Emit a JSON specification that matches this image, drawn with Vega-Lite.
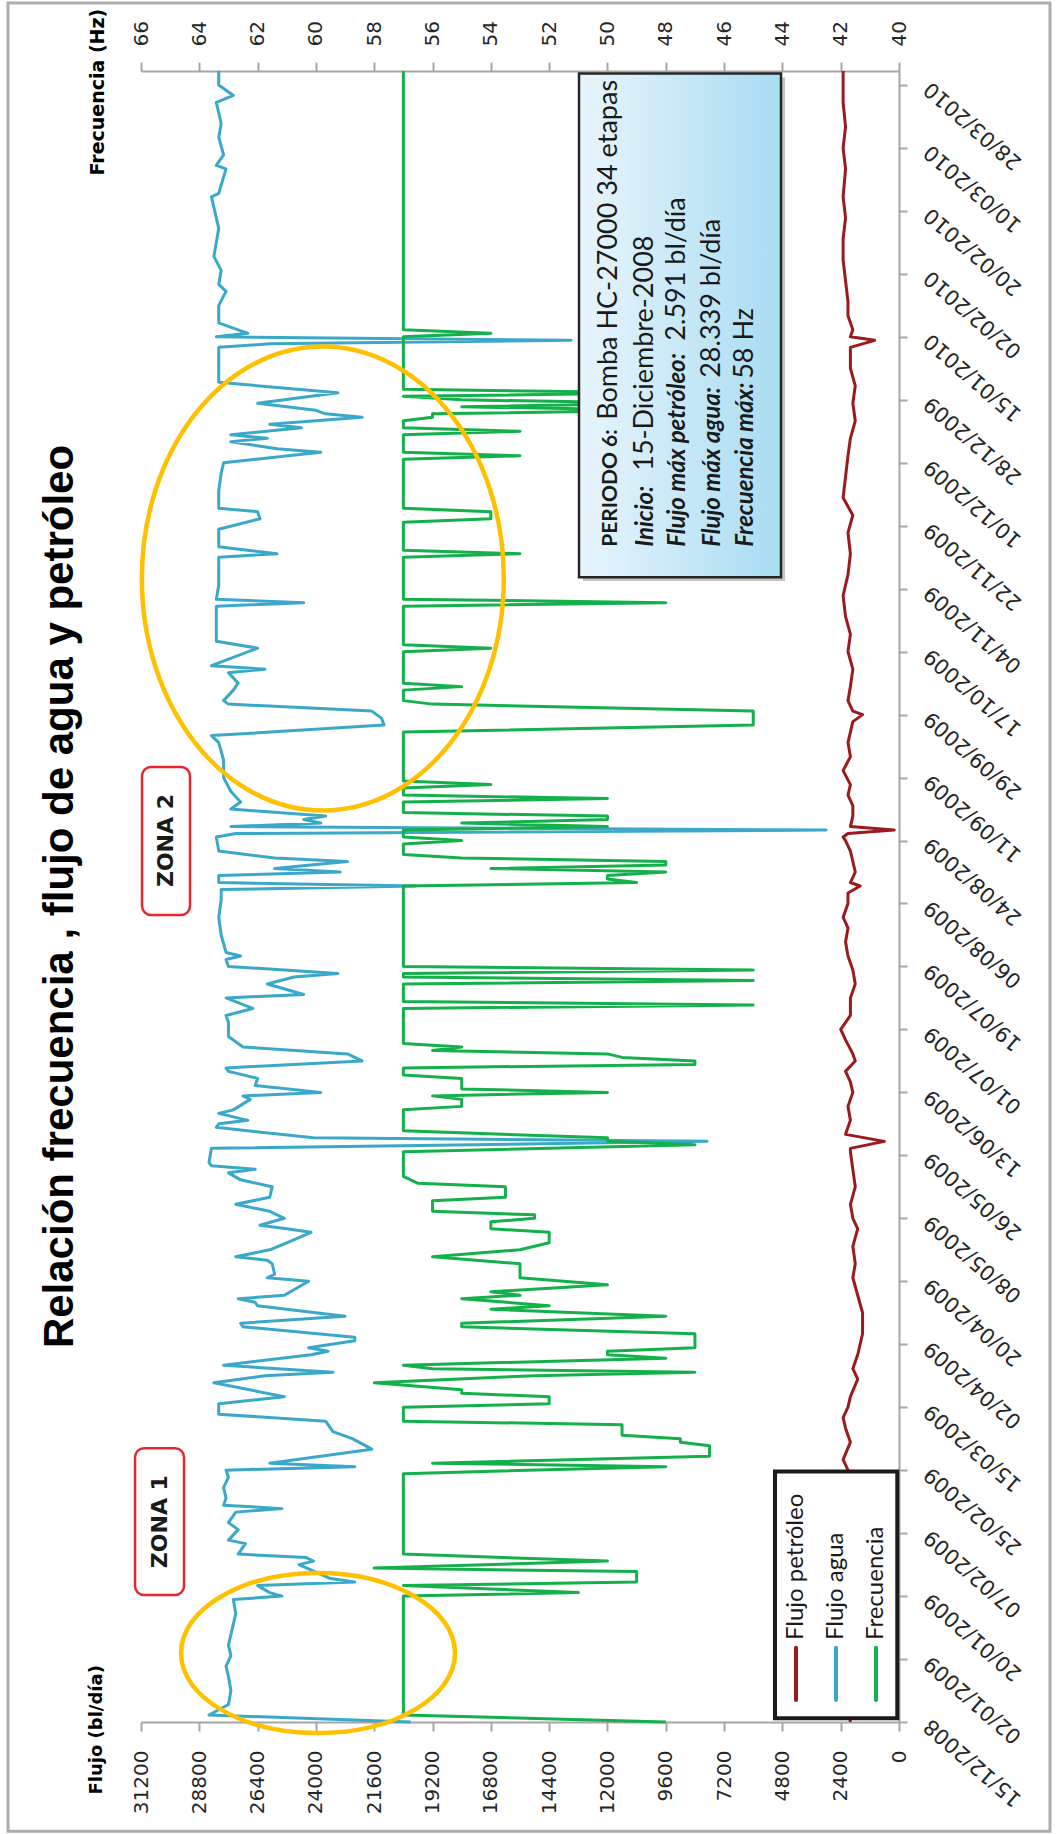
{
  "$schema": "https://vega.github.io/schema/vega-lite/v6.json",
  "width": 758,
  "height": 1651,
  "autosize": {"type": "none"},
  "padding": {"left": 141, "top": 71, "right": 158, "bottom": 112},
  "background": "#ffffff",
  "config": {
    "view": {"stroke": null},
    "axis": {"grid": false, "domainColor": "#A6A6A6", "domainWidth": 2, "tickColor": "#A6A6A6", "tickWidth": 2, "labelFont": "DejaVu Sans", "labelColor": "#262626", "titleFont": "DejaVu Sans", "titleColor": "#000000", "labelOverlap": false, "labelFlush": false}
  },
  "title": {"text": "Relación frecuencia , flujo de agua y petróleo", "orient": "left", "anchor": "middle", "font": "Liberation Sans", "fontSize": 42, "fontWeight": "bold", "color": "#000000", "offset": -75.5},
  "datasets": {
    "agua": [
      {"f":"2008-12-15","q":20100},{"f":"2008-12-17","q":28400},{"f":"2008-12-20","q":27600},{"f":"2008-12-24","q":27500},{"f":"2008-12-28","q":27600},{"f":"2008-12-31","q":27700},{"f":"2009-01-03","q":27500},{"f":"2009-01-06","q":27600},{"f":"2009-01-12","q":27400},{"f":"2009-01-15","q":27300},{"f":"2009-01-19","q":27400},{"f":"2009-01-20","q":25400},{"f":"2009-01-21","q":25900},{"f":"2009-01-23","q":26400},{"f":"2009-01-24","q":22400},{"f":"2009-01-25","q":23400},{"f":"2009-01-29","q":24700},{"f":"2009-01-30","q":24100},{"f":"2009-01-31","q":24400},{"f":"2009-02-01","q":27200},{"f":"2009-02-04","q":26900},{"f":"2009-02-05","q":27600},{"f":"2009-02-08","q":27200},{"f":"2009-02-10","q":27600},{"f":"2009-02-13","q":27300},{"f":"2009-02-14","q":25400},{"f":"2009-02-15","q":27800},{"f":"2009-02-17","q":27700},{"f":"2009-02-20","q":27800},{"f":"2009-02-23","q":27600},{"f":"2009-02-25","q":27700},{"f":"2009-02-26","q":22400},{"f":"2009-02-27","q":25900},{"f":"2009-03-03","q":21700},{"f":"2009-03-06","q":22500},{"f":"2009-03-08","q":23300},{"f":"2009-03-11","q":23600},{"f":"2009-03-13","q":28000},{"f":"2009-03-16","q":28000},{"f":"2009-03-18","q":25300},{"f":"2009-03-22","q":28200},{"f":"2009-03-24","q":26100},{"f":"2009-03-25","q":23300},{"f":"2009-03-27","q":27800},{"f":"2009-03-30","q":24200},{"f":"2009-03-31","q":23500},{"f":"2009-04-01","q":24300},{"f":"2009-04-03","q":22400},{"f":"2009-04-04","q":22400},{"f":"2009-04-07","q":27000},{"f":"2009-04-08","q":27100},{"f":"2009-04-10","q":22800},{"f":"2009-04-13","q":26400},{"f":"2009-04-14","q":26500},{"f":"2009-04-15","q":27200},{"f":"2009-04-16","q":25300},{"f":"2009-04-20","q":24300},{"f":"2009-04-21","q":26000},{"f":"2009-04-22","q":25700},{"f":"2009-04-25","q":25800},{"f":"2009-04-26","q":26000},{"f":"2009-04-27","q":27300},{"f":"2009-04-29","q":25900},{"f":"2009-05-01","q":25200},{"f":"2009-05-04","q":24200},{"f":"2009-05-05","q":25200},{"f":"2009-05-06","q":26300},{"f":"2009-05-08","q":25300},{"f":"2009-05-10","q":25900},{"f":"2009-05-12","q":27300},{"f":"2009-05-14","q":25900},{"f":"2009-05-17","q":25800},{"f":"2009-05-19","q":27100},{"f":"2009-05-21","q":27600},{"f":"2009-05-22","q":26500},{"f":"2009-05-23","q":28300},{"f":"2009-05-24","q":28400},{"f":"2009-05-28","q":28300},{"f":"2009-05-30","q":7900},{"f":"2009-05-31","q":24100},{"f":"2009-06-03","q":28100},{"f":"2009-06-04","q":28000},{"f":"2009-06-05","q":26800},{"f":"2009-06-07","q":28000},{"f":"2009-06-08","q":27400},{"f":"2009-06-11","q":26700},{"f":"2009-06-12","q":27000},{"f":"2009-06-13","q":23800},{"f":"2009-06-15","q":26500},{"f":"2009-06-17","q":26400},{"f":"2009-06-19","q":27600},{"f":"2009-06-20","q":27700},{"f":"2009-06-22","q":22100},{"f":"2009-06-24","q":22700},{"f":"2009-06-26","q":27000},{"f":"2009-06-29","q":27600},{"f":"2009-07-03","q":27600},{"f":"2009-07-05","q":27700},{"f":"2009-07-07","q":26600},{"f":"2009-07-10","q":27700},{"f":"2009-07-11","q":24500},{"f":"2009-07-14","q":26000},{"f":"2009-07-16","q":24900},{"f":"2009-07-17","q":23100},{"f":"2009-07-19","q":27600},{"f":"2009-07-21","q":27700},{"f":"2009-07-22","q":27100},{"f":"2009-07-23","q":27700},{"f":"2009-07-28","q":27900},{"f":"2009-08-02","q":28000},{"f":"2009-08-07","q":27900},{"f":"2009-08-10","q":27900},{"f":"2009-08-11","q":19900},{"f":"2009-08-12","q":28000},{"f":"2009-08-14","q":28000},{"f":"2009-08-15","q":23000},{"f":"2009-08-16","q":25700},{"f":"2009-08-18","q":22700},{"f":"2009-08-19","q":25700},{"f":"2009-08-21","q":28000},{"f":"2009-08-25","q":28100},{"f":"2009-08-26","q":27300},{"f":"2009-08-27","q":3000},{"f":"2009-08-28","q":27500},{"f":"2009-08-29","q":23800},{"f":"2009-08-30","q":24500},{"f":"2009-08-31","q":23600},{"f":"2009-09-02","q":27500},{"f":"2009-09-04","q":27100},{"f":"2009-09-07","q":27500},{"f":"2009-09-11","q":27800},{"f":"2009-09-16","q":27800},{"f":"2009-09-21","q":28000},{"f":"2009-09-23","q":28300},{"f":"2009-09-26","q":21200},{"f":"2009-09-28","q":21300},{"f":"2009-09-30","q":21700},{"f":"2009-10-02","q":27600},{"f":"2009-10-03","q":27800},{"f":"2009-10-06","q":27400},{"f":"2009-10-08","q":27200},{"f":"2009-10-11","q":27600},{"f":"2009-10-12","q":26100},{"f":"2009-10-13","q":28300},{"f":"2009-10-18","q":26400},{"f":"2009-10-20","q":28100},{"f":"2009-10-26","q":28100},{"f":"2009-10-30","q":28100},{"f":"2009-10-31","q":24500},{"f":"2009-11-01","q":28100},{"f":"2009-11-05","q":28000},{"f":"2009-11-10","q":28000},{"f":"2009-11-13","q":28000},{"f":"2009-11-14","q":25600},{"f":"2009-11-16","q":28000},{"f":"2009-11-21","q":28000},{"f":"2009-11-24","q":26300},{"f":"2009-11-26","q":26400},{"f":"2009-11-27","q":28000},{"f":"2009-12-02","q":28000},{"f":"2009-12-07","q":27900},{"f":"2009-12-10","q":27800},{"f":"2009-12-13","q":23800},{"f":"2009-12-14","q":25600},{"f":"2009-12-16","q":27500},{"f":"2009-12-17","q":26000},{"f":"2009-12-18","q":27500},{"f":"2009-12-20","q":24600},{"f":"2009-12-21","q":25900},{"f":"2009-12-23","q":22100},{"f":"2009-12-24","q":23600},{"f":"2009-12-25","q":24000},{"f":"2009-12-27","q":26400},{"f":"2009-12-30","q":23100},{"f":"2010-01-02","q":28000},{"f":"2010-01-09","q":28000},{"f":"2010-01-12","q":28000},{"f":"2010-01-13","q":25900},{"f":"2010-01-14","q":13500},{"f":"2010-01-15","q":28100},{"f":"2010-01-16","q":26800},{"f":"2010-01-19","q":28000},{"f":"2010-01-24","q":28000},{"f":"2010-01-28","q":27700},{"f":"2010-01-30","q":28000},{"f":"2010-02-03","q":27900},{"f":"2010-02-07","q":28200},{"f":"2010-02-15","q":28000},{"f":"2010-02-24","q":28300},{"f":"2010-02-25","q":28000},{"f":"2010-03-04","q":27700},{"f":"2010-03-05","q":28100},{"f":"2010-03-08","q":27800},{"f":"2010-03-13","q":28000},{"f":"2010-03-17","q":27900},{"f":"2010-03-23","q":28100},{"f":"2010-03-25","q":27400},{"f":"2010-03-28","q":28000},{"f":"2010-04-01","q":28000}
    ],
    "petroleo": [
      {"f":"2008-12-15","q":2000},{"f":"2008-12-20","q":2100},{"f":"2008-12-25","q":1900},{"f":"2008-12-30","q":2100},{"f":"2009-01-04","q":2000},{"f":"2009-01-09","q":2200},{"f":"2009-01-14","q":1900},{"f":"2009-01-19","q":2100},{"f":"2009-01-24","q":2000},{"f":"2009-01-29","q":2200},{"f":"2009-02-03","q":1900},{"f":"2009-02-08","q":2100},{"f":"2009-02-13","q":2000},{"f":"2009-02-18","q":2200},{"f":"2009-02-23","q":2000},{"f":"2009-02-25","q":2100},{"f":"2009-02-28","q":2300},{"f":"2009-03-05","q":2000},{"f":"2009-03-09","q":2200},{"f":"2009-03-12","q":2300},{"f":"2009-03-15","q":2100},{"f":"2009-03-18","q":2000},{"f":"2009-03-23","q":1700},{"f":"2009-03-26","q":1900},{"f":"2009-03-30","q":1700},{"f":"2009-04-05","q":1500},{"f":"2009-04-11","q":1500},{"f":"2009-04-16","q":1700},{"f":"2009-04-21","q":1900},{"f":"2009-04-25","q":1800},{"f":"2009-04-30","q":1900},{"f":"2009-05-05","q":1700},{"f":"2009-05-08","q":1900},{"f":"2009-05-12","q":2000},{"f":"2009-05-17","q":1800},{"f":"2009-05-22","q":1900},{"f":"2009-05-27","q":2000},{"f":"2009-05-28","q":2000},{"f":"2009-05-30","q":600},{"f":"2009-06-01","q":2200},{"f":"2009-06-05","q":2000},{"f":"2009-06-09","q":2100},{"f":"2009-06-13","q":1900},{"f":"2009-06-16","q":2000},{"f":"2009-06-19","q":2200},{"f":"2009-06-22","q":1800},{"f":"2009-06-24","q":1900},{"f":"2009-06-28","q":2200},{"f":"2009-07-01","q":2400},{"f":"2009-07-05","q":2000},{"f":"2009-07-10","q":2000},{"f":"2009-07-14","q":1800},{"f":"2009-07-18","q":1900},{"f":"2009-07-22","q":2100},{"f":"2009-07-26","q":2200},{"f":"2009-07-30","q":2100},{"f":"2009-08-02","q":2300},{"f":"2009-08-06","q":2100},{"f":"2009-08-09","q":2100},{"f":"2009-08-11","q":1600},{"f":"2009-08-12","q":2000},{"f":"2009-08-15","q":1800},{"f":"2009-08-18","q":1900},{"f":"2009-08-21","q":2000},{"f":"2009-08-24","q":2200},{"f":"2009-08-25","q":2300},{"f":"2009-08-26","q":2100},{"f":"2009-08-27","q":200},{"f":"2009-08-28","q":2000},{"f":"2009-08-31","q":1900},{"f":"2009-09-03","q":1900},{"f":"2009-09-06","q":2100},{"f":"2009-09-09","q":2000},{"f":"2009-09-13","q":2300},{"f":"2009-09-17","q":2000},{"f":"2009-09-21","q":2100},{"f":"2009-09-24","q":2000},{"f":"2009-09-27","q":1900},{"f":"2009-09-29","q":1500},{"f":"2009-09-30","q":1900},{"f":"2009-10-03","q":2100},{"f":"2009-10-07","q":2000},{"f":"2009-10-12","q":1900},{"f":"2009-10-17","q":2100},{"f":"2009-10-22","q":2000},{"f":"2009-10-27","q":2200},{"f":"2009-11-02","q":2300},{"f":"2009-11-08","q":2100},{"f":"2009-11-14","q":2000},{"f":"2009-11-20","q":2100},{"f":"2009-11-25","q":1900},{"f":"2009-11-30","q":2300},{"f":"2009-12-06","q":2200},{"f":"2009-12-12","q":2100},{"f":"2009-12-17","q":2000},{"f":"2009-12-22","q":1800},{"f":"2009-12-27","q":1900},{"f":"2010-01-01","q":1800},{"f":"2010-01-06","q":2000},{"f":"2010-01-11","q":2000},{"f":"2010-01-12","q":2000},{"f":"2010-01-14","q":1000},{"f":"2010-01-15","q":2000},{"f":"2010-01-17","q":1900},{"f":"2010-01-21","q":2100},{"f":"2010-01-25","q":2100},{"f":"2010-01-31","q":2200},{"f":"2010-02-06","q":2300},{"f":"2010-02-12","q":2300},{"f":"2010-02-18","q":2200},{"f":"2010-02-24","q":2300},{"f":"2010-03-04","q":2200},{"f":"2010-03-10","q":2300},{"f":"2010-03-16","q":2200},{"f":"2010-03-23","q":2300},{"f":"2010-03-28","q":2300},{"f":"2010-04-01","q":2300}
    ],
    "frec": [
      {"f":"2008-12-15","hz":48},{"f":"2008-12-17","hz":57},{"f":"2009-01-20","hz":57},{"f":"2009-01-21","hz":51},{"f":"2009-01-22","hz":54},{"f":"2009-01-23","hz":57},{"f":"2009-01-24","hz":49},{"f":"2009-01-27","hz":49},{"f":"2009-01-28","hz":58},{"f":"2009-01-30","hz":50},{"f":"2009-02-01","hz":57},{"f":"2009-02-24","hz":57},{"f":"2009-02-26","hz":48},{"f":"2009-02-27","hz":56},{"f":"2009-03-01","hz":46.5},{"f":"2009-03-04","hz":46.5},{"f":"2009-03-05","hz":47.5},{"f":"2009-03-06","hz":47.5},{"f":"2009-03-07","hz":49.5},{"f":"2009-03-10","hz":49.5},{"f":"2009-03-11","hz":57},{"f":"2009-03-15","hz":57},{"f":"2009-03-16","hz":52},{"f":"2009-03-18","hz":52},{"f":"2009-03-19","hz":55},{"f":"2009-03-20","hz":55},{"f":"2009-03-22","hz":58},{"f":"2009-03-24","hz":52.5},{"f":"2009-03-25","hz":47},{"f":"2009-03-26","hz":56},{"f":"2009-03-27","hz":57},{"f":"2009-03-29","hz":48},{"f":"2009-03-30","hz":50},{"f":"2009-03-31","hz":50},{"f":"2009-04-01","hz":47},{"f":"2009-04-05","hz":47},{"f":"2009-04-07","hz":55},{"f":"2009-04-08","hz":55},{"f":"2009-04-10","hz":48},{"f":"2009-04-12","hz":54},{"f":"2009-04-13","hz":52},{"f":"2009-04-15","hz":55},{"f":"2009-04-16","hz":53},{"f":"2009-04-17","hz":54},{"f":"2009-04-19","hz":50},{"f":"2009-04-21","hz":53},{"f":"2009-04-25","hz":53},{"f":"2009-04-27","hz":56},{"f":"2009-04-29","hz":53},{"f":"2009-05-01","hz":52},{"f":"2009-05-04","hz":52},{"f":"2009-05-05","hz":54},{"f":"2009-05-07","hz":54},{"f":"2009-05-08","hz":52.5},{"f":"2009-05-09","hz":52.5},{"f":"2009-05-10","hz":56},{"f":"2009-05-13","hz":56},{"f":"2009-05-14","hz":53.5},{"f":"2009-05-17","hz":53.5},{"f":"2009-05-18","hz":56.5},{"f":"2009-05-20","hz":57},{"f":"2009-05-27","hz":57},{"f":"2009-05-29","hz":47},{"f":"2009-05-30","hz":50},{"f":"2009-05-31","hz":50},{"f":"2009-06-02","hz":57},{"f":"2009-06-08","hz":57},{"f":"2009-06-09","hz":55},{"f":"2009-06-11","hz":55},{"f":"2009-06-12","hz":56},{"f":"2009-06-13","hz":50},{"f":"2009-06-14","hz":55},{"f":"2009-06-17","hz":55},{"f":"2009-06-18","hz":57},{"f":"2009-06-20","hz":57},{"f":"2009-06-21","hz":47},{"f":"2009-06-22","hz":47},{"f":"2009-06-23","hz":49.5},{"f":"2009-06-24","hz":50},{"f":"2009-06-25","hz":56},{"f":"2009-06-26","hz":55},{"f":"2009-06-27","hz":57},{"f":"2009-07-07","hz":57},{"f":"2009-07-08","hz":45},{"f":"2009-07-09","hz":57},{"f":"2009-07-14","hz":57},{"f":"2009-07-15","hz":45},{"f":"2009-07-16","hz":57},{"f":"2009-07-17","hz":57},{"f":"2009-07-18","hz":45},{"f":"2009-07-19","hz":57},{"f":"2009-08-11","hz":57},{"f":"2009-08-12","hz":49},{"f":"2009-08-13","hz":50},{"f":"2009-08-14","hz":50},{"f":"2009-08-15","hz":48},{"f":"2009-08-16","hz":54},{"f":"2009-08-17","hz":48},{"f":"2009-08-18","hz":48},{"f":"2009-08-19","hz":55},{"f":"2009-08-20","hz":57},{"f":"2009-08-23","hz":57},{"f":"2009-08-24","hz":55},{"f":"2009-08-25","hz":57},{"f":"2009-08-27","hz":57},{"f":"2009-08-28","hz":50},{"f":"2009-08-29","hz":55},{"f":"2009-08-30","hz":50},{"f":"2009-08-31","hz":50},{"f":"2009-09-01","hz":57},{"f":"2009-09-04","hz":57},{"f":"2009-09-05","hz":50},{"f":"2009-09-06","hz":57},{"f":"2009-09-08","hz":57},{"f":"2009-09-09","hz":54},{"f":"2009-09-10","hz":57},{"f":"2009-09-24","hz":57},{"f":"2009-09-26","hz":45},{"f":"2009-09-30","hz":45},{"f":"2009-10-02","hz":56},{"f":"2009-10-03","hz":57},{"f":"2009-10-06","hz":57},{"f":"2009-10-07","hz":55},{"f":"2009-10-08","hz":57},{"f":"2009-10-17","hz":57},{"f":"2009-10-18","hz":54},{"f":"2009-10-19","hz":57},{"f":"2009-10-30","hz":57},{"f":"2009-10-31","hz":48},{"f":"2009-11-01","hz":57},{"f":"2009-11-13","hz":57},{"f":"2009-11-14","hz":53},{"f":"2009-11-15","hz":57},{"f":"2009-11-23","hz":57},{"f":"2009-11-24","hz":54},{"f":"2009-11-26","hz":54},{"f":"2009-11-27","hz":57},{"f":"2009-12-11","hz":57},{"f":"2009-12-12","hz":53},{"f":"2009-12-13","hz":57},{"f":"2009-12-18","hz":57},{"f":"2009-12-19","hz":53},{"f":"2009-12-20","hz":57},{"f":"2009-12-22","hz":57},{"f":"2009-12-23","hz":56},{"f":"2009-12-24","hz":56},{"f":"2009-12-25","hz":48},{"f":"2009-12-26","hz":55},{"f":"2009-12-27","hz":48},{"f":"2009-12-28","hz":55},{"f":"2009-12-29","hz":57},{"f":"2009-12-30","hz":48},{"f":"2009-12-31","hz":57},{"f":"2010-01-15","hz":57},{"f":"2010-01-16","hz":54},{"f":"2010-01-17","hz":57},{"f":"2010-04-01","hz":57}
    ],
    "marco": [{"xa":36674,"xb":-6215,"ta":"2010-04-20T10:00","tb":"2008-11-13T19:00"}],
    "zonas": [
      {"z":"ZONA 1","xa":31446,"xb":29429,"ta":"2009-03-03T07:00","tb":"2009-01-20T07:00","xc":30438,"tc":"2009-02-10T07:00"},
      {"z":"ZONA 2","xa":31158,"xb":29183,"ta":"2009-09-14T00:00","tb":"2009-08-02T17:00","xc":30170,"tc":"2009-08-24T00:00"}
    ],
    "cuadro": [{"xa":13171,"xb":4857,"ta":"2010-03-31T07:00","tb":"2009-11-07T07:00"}],
    "sombra": [{"xa":13006,"xb":4692,"ta":"2010-03-30T05:00","tb":"2009-11-06T05:00"}],
    "txt_negrita": [{"s":"PERIODO 6:","x":11607,"t":"2009-11-16T00:00"}],
    "txt_cursiva": [
      {"s":"Inicio:","x":10125,"t":"2009-11-16T00:00"},
      {"s":"Flujo máx petróleo:","x":8808,"t":"2009-11-16T00:00"},
      {"s":"Flujo máx  agua:","x":7368,"t":"2009-11-16T00:00"},
      {"s":"Frecuencia máx:","x":6026,"t":"2009-11-16T00:00"}
    ],
    "txt_normal": [
      {"s":"Bomba HC-27000 34 etapas","x":11607,"t":"2009-12-22T07:00"},
      {"s":"15-Diciembre-2008","x":10125,"t":"2009-12-07T17:00"},
      {"s":"2.591 bl/día","x":8808,"t":"2010-01-13T22:00"},
      {"s":"28.339 bl/día","x":7368,"t":"2010-01-03T07:00"},
      {"s":"58 Hz","x":6026,"t":"2010-01-03T00:00"}
    ],
    "leyenda_caja": [{"xa":5104,"xb":70,"ta":"2009-02-24T14:00","tb":"2008-12-16T02:00"}],
    "leyenda": [
      {"serie":"Flujo petróleo","x":4239,"ta":"2008-12-21T07:00","tb":"2009-01-05T05:00","tt":"2009-01-07T10:00"},
      {"serie":"Flujo agua","x":2593,"ta":"2008-12-21T07:00","tb":"2009-01-05T05:00","tt":"2009-01-07T10:00"},
      {"serie":"Frecuencia","x":947,"ta":"2008-12-21T07:00","tb":"2009-01-05T05:00","tt":"2009-01-07T10:00"}
    ]
  },
  "layer": [
    {
      "data": {"name": "marco"},
      "mark": {"type": "rect", "fill": null, "fillOpacity": 0, "stroke": "#ADADAD", "strokeWidth": 3},
      "encoding": {
        "x": {"field": "xa", "type": "quantitative", "scale": {"domain": [0, 31200], "reverse": true, "nice": false, "zero": false}, "axis": null},
        "x2": {"field": "xb"},
        "y": {"field": "ta", "type": "temporal", "scale": {"domain": [{"year": 2008, "month": 12, "date": 15}, {"year": 2010, "month": 4, "date": 1}], "nice": false}},
        "y2": {"field": "tb"}
      }
    },
    {
      "data": {"name": "petroleo"},
      "mark": {"type": "line", "color": "#9A1B1E", "strokeWidth": 3, "strokeJoin": "round"},
      "encoding": {
        "y": {"field": "f", "type": "temporal",
          "scale": {"domain": [{"year": 2008, "month": 12, "date": 15}, {"year": 2010, "month": 4, "date": 1}], "nice": false},
          "axis": {"orient": "right", "title": null, "format": "%d/%m/%Y", "labelAngle": 221, "labelAlign": "right", "labelBaseline": "middle", "labelPadding": 20, "labelFontSize": 21, "tickSize": 8,
            "values": [
              {"year":2008,"month":12,"date":15},{"year":2009,"month":1,"date":2},{"year":2009,"month":1,"date":20},{"year":2009,"month":2,"date":7},{"year":2009,"month":2,"date":25},{"year":2009,"month":3,"date":15},{"year":2009,"month":4,"date":2},{"year":2009,"month":4,"date":20},{"year":2009,"month":5,"date":8},{"year":2009,"month":5,"date":26},{"year":2009,"month":6,"date":13},{"year":2009,"month":7,"date":1},{"year":2009,"month":7,"date":19},{"year":2009,"month":8,"date":6},{"year":2009,"month":8,"date":24},{"year":2009,"month":9,"date":11},{"year":2009,"month":9,"date":29},{"year":2009,"month":10,"date":17},{"year":2009,"month":11,"date":4},{"year":2009,"month":11,"date":22},{"year":2009,"month":12,"date":10},{"year":2009,"month":12,"date":28},{"year":2010,"month":1,"date":15},{"year":2010,"month":2,"date":2},{"year":2010,"month":2,"date":20},{"year":2010,"month":3,"date":10},{"year":2010,"month":3,"date":28}
            ]}},
        "x": {"field": "q", "type": "quantitative",
          "scale": {"domain": [0, 31200], "reverse": true, "nice": false, "zero": false},
          "axis": {"orient": "bottom", "values": [0,2400,4800,7200,9600,12000,14400,16800,19200,21600,24000,26400,28800,31200], "format": "d", "labelAngle": 270, "labelAlign": "right", "labelBaseline": "middle", "labelPadding": 19, "labelFontSize": 20, "tickSize": 9,
            "title": "Flujo (bl/día)", "titleAngle": 270, "titleAlign": "left", "titleBaseline": "middle", "titleX": -45, "titleY": 72, "titleFontSize": 18, "titleFontWeight": "bold"}}
      }
    },
    {
      "data": {"name": "agua"},
      "mark": {"type": "line", "color": "#3AA8C9", "strokeWidth": 3, "strokeJoin": "round"},
      "encoding": {
        "y": {"field": "f", "type": "temporal", "scale": {"domain": [{"year": 2008, "month": 12, "date": 15}, {"year": 2010, "month": 4, "date": 1}], "nice": false}},
        "x": {"field": "q", "type": "quantitative", "scale": {"domain": [0, 31200], "reverse": true, "nice": false, "zero": false}, "axis": null}
      }
    },
    {
      "data": {"name": "frec"},
      "mark": {"type": "line", "color": "#14B04B", "strokeWidth": 3, "strokeJoin": "round"},
      "encoding": {
        "y": {"field": "f", "type": "temporal", "scale": {"domain": [{"year": 2008, "month": 12, "date": 15}, {"year": 2010, "month": 4, "date": 1}], "nice": false}},
        "x": {"field": "hz", "type": "quantitative",
          "scale": {"domain": [40, 66], "reverse": true, "nice": false, "zero": false},
          "axis": {"orient": "top", "values": [40,42,44,46,48,50,52,54,56,58,60,62,64,66], "labelAngle": 270, "labelAlign": "left", "labelBaseline": "middle", "labelPadding": 16, "labelFontSize": 20, "tickSize": 9,
            "title": "Frecuencia (Hz)", "titleAngle": 270, "titleAlign": "left", "titleBaseline": "middle", "titleX": -44, "titleY": 104, "titleFontSize": 19, "titleFontWeight": "bold"}}
      }
    },
    {
      "data": {"name": "sombra"},
      "mark": {"type": "rect", "fill": "#7f7f7f", "opacity": 0.45},
      "encoding": {
        "x": {"field": "xa", "type": "quantitative", "scale": {"domain": [0, 31200], "reverse": true, "nice": false, "zero": false}, "axis": null},
        "x2": {"field": "xb"},
        "y": {"field": "ta", "type": "temporal", "scale": {"domain": [{"year": 2008, "month": 12, "date": 15}, {"year": 2010, "month": 4, "date": 1}], "nice": false}},
        "y2": {"field": "tb"}
      }
    },
    {
      "data": {"name": "cuadro"},
      "mark": {"type": "rect", "stroke": "#262626", "strokeWidth": 2.5,
        "fill": {"gradient": "linear", "x1": 0, "y1": 0, "x2": 1, "y2": 0, "stops": [{"offset": 0, "color": "#E8F5FC"}, {"offset": 1, "color": "#A8DCF2"}]}},
      "encoding": {
        "x": {"field": "xa", "type": "quantitative", "scale": {"domain": [0, 31200], "reverse": true, "nice": false, "zero": false}, "axis": null},
        "x2": {"field": "xb"},
        "y": {"field": "ta", "type": "temporal", "scale": {"domain": [{"year": 2008, "month": 12, "date": 15}, {"year": 2010, "month": 4, "date": 1}], "nice": false}},
        "y2": {"field": "tb"}
      }
    },
    {
      "data": {"name": "txt_negrita"},
      "mark": {"type": "text", "angle": 270, "align": "left", "baseline": "alphabetic", "font": "Lato", "fontSize": 21, "fontWeight": "bold", "color": "#1a1a1a"},
      "encoding": {
        "x": {"field": "x", "type": "quantitative", "scale": {"domain": [0, 31200], "reverse": true, "nice": false, "zero": false}, "axis": null},
        "y": {"field": "t", "type": "temporal", "scale": {"domain": [{"year": 2008, "month": 12, "date": 15}, {"year": 2010, "month": 4, "date": 1}], "nice": false}},
        "text": {"field": "s"}
      }
    },
    {
      "data": {"name": "txt_cursiva"},
      "mark": {"type": "text", "angle": 270, "align": "left", "baseline": "alphabetic", "font": "Lato", "fontSize": 24, "fontWeight": "bold", "fontStyle": "italic", "color": "#1a1a1a"},
      "encoding": {
        "x": {"field": "x", "type": "quantitative", "scale": {"domain": [0, 31200], "reverse": true, "nice": false, "zero": false}, "axis": null},
        "y": {"field": "t", "type": "temporal", "scale": {"domain": [{"year": 2008, "month": 12, "date": 15}, {"year": 2010, "month": 4, "date": 1}], "nice": false}},
        "text": {"field": "s"}
      }
    },
    {
      "data": {"name": "txt_normal"},
      "mark": {"type": "text", "angle": 270, "align": "left", "baseline": "alphabetic", "font": "Lato", "fontSize": 27, "color": "#1a1a1a"},
      "encoding": {
        "x": {"field": "x", "type": "quantitative", "scale": {"domain": [0, 31200], "reverse": true, "nice": false, "zero": false}, "axis": null},
        "y": {"field": "t", "type": "temporal", "scale": {"domain": [{"year": 2008, "month": 12, "date": 15}, {"year": 2010, "month": 4, "date": 1}], "nice": false}},
        "text": {"field": "s"}
      }
    },
    {
      "data": {"values": [{"x": 23914, "t": "2009-01-03T17:00"}]},
      "mark": {"type": "point", "filled": false, "stroke": "#FFC000", "strokeWidth": 4.5, "opacity": 1, "size": 75076,
        "shape": "M-1,0A1,0.584,0,1,1,1,0A1,0.584,0,1,1,-1,0Z"},
      "encoding": {
        "x": {"field": "x", "type": "quantitative", "scale": {"domain": [0, 31200], "reverse": true, "nice": false, "zero": false}, "axis": null},
        "y": {"field": "t", "type": "temporal", "scale": {"domain": [{"year": 2008, "month": 12, "date": 15}, {"year": 2010, "month": 4, "date": 1}], "nice": false}}
      }
    },
    {
      "data": {"values": [{"x": 23716, "t": "2009-11-06T22:00"}]},
      "mark": {"type": "point", "filled": false, "stroke": "#FFC000", "strokeWidth": 4.5, "opacity": 1, "size": 215296,
        "shape": "M0,-1A0.78,1,0,1,1,0,1A0.78,1,0,1,1,0,-1Z"},
      "encoding": {
        "x": {"field": "x", "type": "quantitative", "scale": {"domain": [0, 31200], "reverse": true, "nice": false, "zero": false}, "axis": null},
        "y": {"field": "t", "type": "temporal", "scale": {"domain": [{"year": 2008, "month": 12, "date": 15}, {"year": 2010, "month": 4, "date": 1}], "nice": false}}
      }
    },
    {
      "data": {"name": "zonas"},
      "mark": {"type": "rect", "fill": "#ffffff", "stroke": "#E8262F", "strokeWidth": 2.5, "cornerRadius": 9},
      "encoding": {
        "x": {"field": "xa", "type": "quantitative", "scale": {"domain": [0, 31200], "reverse": true, "nice": false, "zero": false}, "axis": null},
        "x2": {"field": "xb"},
        "y": {"field": "ta", "type": "temporal", "scale": {"domain": [{"year": 2008, "month": 12, "date": 15}, {"year": 2010, "month": 4, "date": 1}], "nice": false}},
        "y2": {"field": "tb"}
      }
    },
    {
      "data": {"name": "zonas"},
      "mark": {"type": "text", "angle": 270, "align": "center", "baseline": "middle", "font": "DejaVu Sans", "fontSize": 22, "fontWeight": "bold", "color": "#1a1a1a"},
      "encoding": {
        "x": {"field": "xc", "type": "quantitative", "scale": {"domain": [0, 31200], "reverse": true, "nice": false, "zero": false}, "axis": null},
        "y": {"field": "tc", "type": "temporal", "scale": {"domain": [{"year": 2008, "month": 12, "date": 15}, {"year": 2010, "month": 4, "date": 1}], "nice": false}},
        "text": {"field": "z"}
      }
    },
    {
      "data": {"name": "leyenda_caja"},
      "mark": {"type": "rect", "fill": "#ffffff", "stroke": "#1a1a1a", "strokeWidth": 4},
      "encoding": {
        "x": {"field": "xa", "type": "quantitative", "scale": {"domain": [0, 31200], "reverse": true, "nice": false, "zero": false}, "axis": null},
        "x2": {"field": "xb"},
        "y": {"field": "ta", "type": "temporal", "scale": {"domain": [{"year": 2008, "month": 12, "date": 15}, {"year": 2010, "month": 4, "date": 1}], "nice": false}},
        "y2": {"field": "tb"}
      }
    },
    {
      "data": {"name": "leyenda"},
      "mark": {"type": "rule", "strokeWidth": 4, "strokeCap": "round"},
      "encoding": {
        "x": {"field": "x", "type": "quantitative", "scale": {"domain": [0, 31200], "reverse": true, "nice": false, "zero": false}, "axis": null},
        "y": {"field": "ta", "type": "temporal", "scale": {"domain": [{"year": 2008, "month": 12, "date": 15}, {"year": 2010, "month": 4, "date": 1}], "nice": false}},
        "y2": {"field": "tb"},
        "color": {"field": "serie", "type": "nominal", "scale": {"domain": ["Flujo petróleo", "Flujo agua", "Frecuencia"], "range": ["#9A1B1E", "#3AA8C9", "#14B04B"]}, "legend": null}
      }
    },
    {
      "data": {"name": "leyenda"},
      "mark": {"type": "text", "angle": 270, "align": "left", "baseline": "middle", "font": "Lato", "fontSize": 24, "color": "#1a1a1a"},
      "encoding": {
        "x": {"field": "x", "type": "quantitative", "scale": {"domain": [0, 31200], "reverse": true, "nice": false, "zero": false}, "axis": null},
        "y": {"field": "tt", "type": "temporal", "scale": {"domain": [{"year": 2008, "month": 12, "date": 15}, {"year": 2010, "month": 4, "date": 1}], "nice": false}},
        "text": {"field": "serie"}
      }
    }
  ],
  "resolve": {"scale": {"x": "independent"}}
}
